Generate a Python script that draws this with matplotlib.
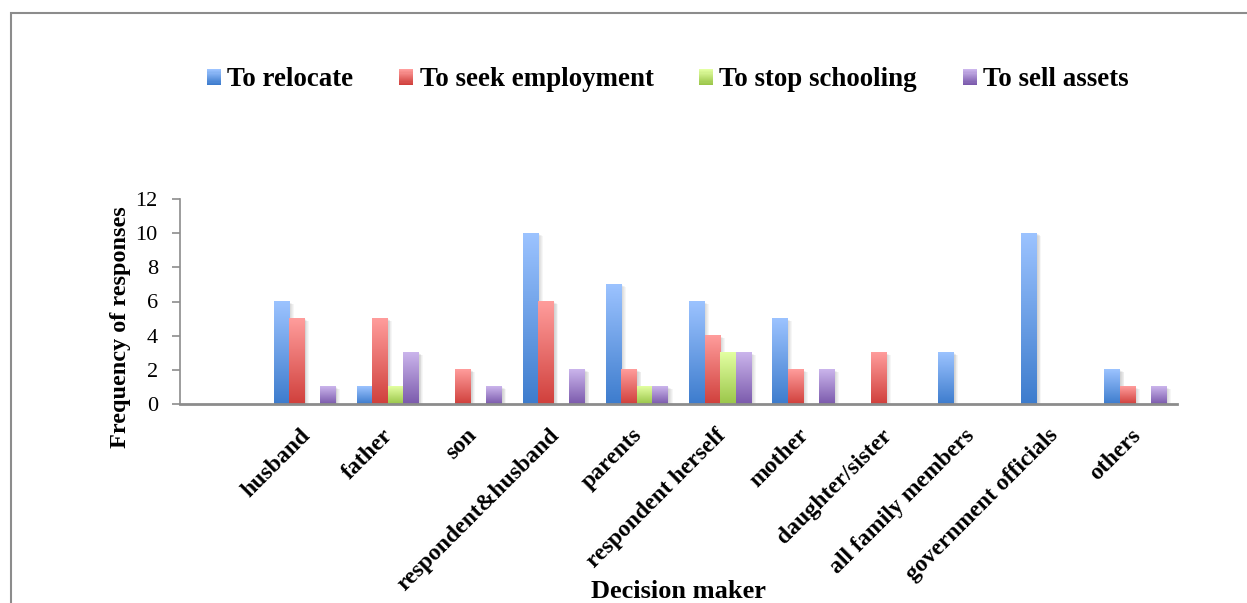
import numpy as np
import matplotlib
matplotlib.use("Agg")
import matplotlib.pyplot as plt
from matplotlib.patches import Rectangle, Patch
from matplotlib.colors import LinearSegmentedColormap, to_rgb
from matplotlib.legend_handler import HandlerBase
import matplotlib.transforms as mtransforms

plt.rcParams['font.family'] = ['Liberation Serif', 'DejaVu Serif']

# ---- data ----
categories = ["husband", "father", "son", "respondent&husband", "parents",
              "respondent herself", "mother", "daughter/sister",
              "all family members", "government officials", "others"]
series_names = ["To relocate", "To seek employment", "To stop schooling", "To sell assets"]
to_relocate = [6, 1, 0, 10, 7, 6, 5, 0, 3, 10, 2]
to_seek_employment = [5, 5, 2, 6, 2, 4, 2, 3, 0, 0, 1]
to_stop_schooling = [0, 1, 0, 0, 1, 3, 0, 0, 0, 0, 0]
to_sell_assets = [1, 3, 1, 2, 1, 3, 2, 0, 0, 0, 1]
y_ticks = [0, 2, 4, 6, 8, 10, 12]

# (bottom colour, top colour) for each series' vertical gradient
gradients = [("#3d7ccd", "#9cc3ff"),
             ("#d0403c", "#ff9d9c"),
             ("#9bc64a", "#e3ffa2"),
             ("#7b5aac", "#cbb5ec")]

W, H = 1247, 603
fig = plt.figure(figsize=(W / 100, H / 100), dpi=100)
ax = fig.add_axes([180 / W, 1 - 404 / H, (1177 - 180) / W, (404 - 199) / H])

x = np.arange(len(categories))
bar_w = 0.187
all_series = [to_relocate, to_seek_employment, to_stop_schooling, to_sell_assets]

grad = np.linspace(0, 1, 256).reshape(-1, 1)
for j, (vals, (c0, c1)) in enumerate(zip(all_series, gradients)):
    cmap = LinearSegmentedColormap.from_list(f"g{j}", [c0, c1])
    bars = ax.bar(x + (j - 1.5) * bar_w, vals, width=bar_w,
                  facecolor="none", edgecolor="none", zorder=3)
    for b in bars:
        h = b.get_height()
        if h <= 0:
            continue
        bx, bw = b.get_x(), b.get_width()
        # soft drop shadow
        for k in range(1, 6):
            off = mtransforms.offset_copy(ax.transData, fig=fig, x=k * 0.9, y=-k * 0.5, units='dots')
            ax.add_patch(Rectangle((bx, 0), bw, h, transform=off, facecolor="#000000",
                                   alpha=0.035, edgecolor="none", zorder=2))
        ax.imshow(grad, extent=[bx, bx + bw, 0, h], origin="lower", aspect="auto",
                  cmap=cmap, interpolation="bilinear", zorder=3)

ax.set_xlim(-1.5, len(categories) - 0.5)
ax.set_ylim(0, 12)
ax.set_yticks(y_ticks)
ax.set_yticklabels([str(v) for v in y_ticks], fontsize=16)
ax.set_xticks(x)
ax.set_xticklabels(categories, rotation=45, ha="right", va="top",
                   rotation_mode="anchor", fontsize=17, fontweight="bold")
ax.tick_params(axis="x", length=0, pad=15)
ax.tick_params(axis="y", length=6, width=1.2, color="#8c8c8c", pad=10)
shift = mtransforms.ScaledTranslation(-5 / 100, 0, fig.dpi_scale_trans)
for lab in ax.get_xticklabels():
    lab.set_transform(lab.get_transform() + shift)

for s in ["top", "right"]:
    ax.spines[s].set_visible(False)
ax.spines["left"].set_color("#8c8c8c")
ax.spines["left"].set_linewidth(1.2)
ax.spines["bottom"].set_color("#8c8c8c")
ax.spines["bottom"].set_linewidth(2)
ax.spines["bottom"].set_zorder(4)

ax.set_xlabel("Decision maker", fontsize=19, fontweight="bold")
ax.xaxis.set_label_coords(0.5, -0.86)
ax.set_ylabel("Frequency of responses", fontsize=17.5, fontweight="bold")
ax.yaxis.set_label_coords(-0.049, 0.376)


class GradientSquare(HandlerBase):
    def __init__(self, c0, c1, n=14):
        super().__init__()
        self.c0, self.c1, self.n = np.array(to_rgb(c0)), np.array(to_rgb(c1)), n

    def create_artists(self, legend, orig_handle, xdescent, ydescent,
                       width, height, fontsize, trans):
        arts = []
        for k in range(self.n):
            t = k / (self.n - 1)
            col = self.c0 * (1 - t) + self.c1 * t
            arts.append(Rectangle((-xdescent, -ydescent + height * k / self.n),
                                  width, height / self.n * 1.05, facecolor=col,
                                  edgecolor="none", transform=trans))
        return arts


handles = [Patch(label=n) for n in series_names]
hmap = {h: GradientSquare(c0, c1) for h, (c0, c1) in zip(handles, gradients)}
fig.legend(handles=handles, handler_map=hmap, loc="center",
           bbox_to_anchor=(668 / W, 1 - 80 / H), ncol=4, frameon=False,
           prop={"size": 19.4, "weight": "bold"}, handlelength=0.52,
           handleheight=0.52, handletextpad=0.23, columnspacing=1.7)

# outer chart frame
fig.add_artist(Rectangle((10.5 / W, -0.1), 1.2, 1.1 - 13 / H, transform=fig.transFigure,
                         fill=False, edgecolor="#8c8c8c", linewidth=1.5))

fig.savefig("out.png", dpi=100)
